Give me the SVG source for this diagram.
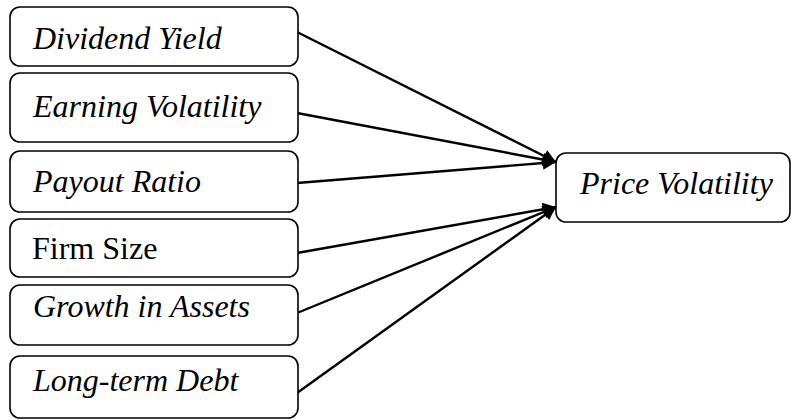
<svg xmlns="http://www.w3.org/2000/svg" width="791" height="420" viewBox="0 0 791 420">
<style>
.box{fill:#fff;stroke:#000;stroke-width:1.6}
.t{font-family:"Liberation Serif","Times New Roman",serif;font-size:32px;fill:#000}
.i{font-style:italic}
.c{stroke:#000;stroke-width:2.4;fill:none;marker-end:url(#ah)}
</style>
<defs>
<marker id="ah" viewBox="0 0 10 10" refX="10" refY="5" markerWidth="6.5" markerHeight="5.5" markerUnits="strokeWidth" orient="auto">
<path d="M0,0 L10,5 L0,10 z" fill="#000"/>
</marker>
</defs>
<rect width="791" height="420" fill="#fff"/>
<g id="connectors">
<line class="c" x1="297" y1="32" x2="556" y2="162"/>
<line class="c" x1="297" y1="113" x2="556" y2="162"/>
<line class="c" x1="297" y1="183" x2="556" y2="162"/>
<line class="c" x1="297" y1="253" x2="556" y2="207"/>
<line class="c" x1="297" y1="313" x2="556" y2="207"/>
<line class="c" x1="297" y1="393" x2="556" y2="207"/>
</g>
<g id="dividend-yield"><rect class="box" x="10" y="7" width="288" height="59" rx="10"/><text class="t i" x="33" y="49">Dividend Yield</text></g>
<g id="earning-volatility"><rect class="box" x="10" y="73" width="288" height="69" rx="10"/><text class="t i" x="33" y="117">Earning Volatility</text></g>
<g id="payout-ratio"><rect class="box" x="10" y="151" width="288" height="61" rx="10"/><text class="t i" x="33" y="192">Payout Ratio</text></g>
<g id="firm-size"><rect class="box" x="10" y="219" width="288" height="58" rx="10"/><text class="t" x="32" y="259">Firm Size</text></g>
<g id="growth-in-assets"><rect class="box" x="10" y="285" width="288" height="60" rx="10"/><text class="t i" x="33" y="317">Growth in Assets</text></g>
<g id="long-term-debt"><rect class="box" x="10" y="356" width="288" height="62" rx="10"/><text class="t i" x="33" y="391">Long-term Debt</text></g>
<g id="price-volatility"><rect class="box" x="556" y="153" width="234" height="69" rx="10"/><text class="t i" x="580" y="194">Price Volatility</text></g>
</svg>
